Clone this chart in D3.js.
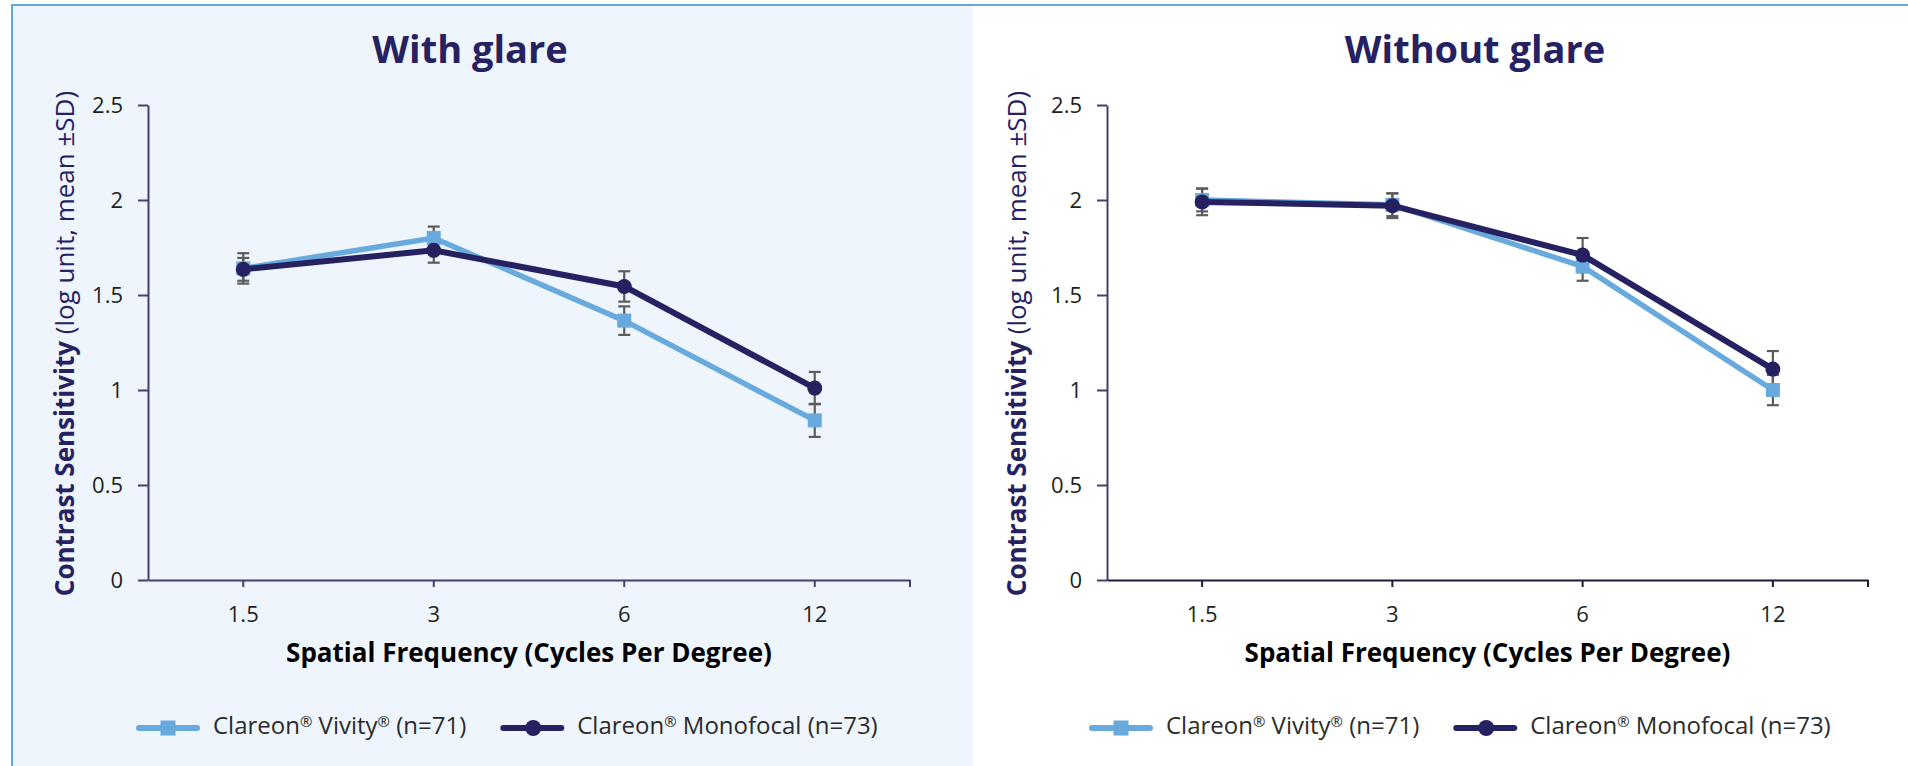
<!DOCTYPE html>
<html>
<head>
<meta charset="utf-8">
<script src="https://cdn.jsdelivr.net/npm/d3@7"></script>
<style>
  body { margin: 0; background: #fff; }
  svg { display: block; font-family: 'Open Sans', 'Noto Sans', sans-serif; }
</style>
</head>
<body>
<svg id="chart" width="1908" height="766"></svg>
<script>
// values (log units, mean and SD)
const frequencies = ['1.5', '3', '6', '12'];
const yTicks = [0, 0.5, 1, 1.5, 2, 2.5];

const glareVivity = [1.64, 1.80, 1.365, 0.84];
const glareVivitySd = [0.08, 0.06, 0.075, 0.087];
const glareMono = [1.635, 1.735, 1.545, 1.01];
const glareMonoSd = [0.06, 0.065, 0.08, 0.085];

const noGlareVivity = [2.00, 1.975, 1.65, 1.00];
const noGlareVivitySd = [0.06, 0.06, 0.075, 0.08];
const noGlareMono = [1.99, 1.97, 1.71, 1.11];
const noGlareMonoSd = [0.07, 0.065, 0.09, 0.095];

// legend labels, [text, superscript?]
const vivityLabel = [['Clareon', false], ['®', true], [' Vivity', false], ['®', true], [' (n=71)', false]];
const monoLabel = [['Clareon', false], ['®', true], [' Monofocal (n=73)', false]];

const COLORS = {
  vivity: '#68aade',
  mono: '#262262',
  error: '#5c5c5c',
  navy: '#262262',
  axis: '#463f6e',
  text: '#231f20'
};

const svg = d3.select('#chart');

// panel background and frame
svg.append('rect')
  .attr('x', 12).attr('y', 5)
  .attr('width', 961).attr('height', 761)
  .attr('fill', '#eef5fc');
svg.append('line')
  .attr('x1', 11).attr('x2', 1908).attr('y1', 5).attr('y2', 5)
  .attr('stroke', '#66a8de').attr('stroke-width', 2);
svg.append('line')
  .attr('x1', 12).attr('x2', 12).attr('y1', 4).attr('y2', 766)
  .attr('stroke', '#66a8de').attr('stroke-width', 2);

const y = d3.scaleLinear().domain([0, 2.5]).range([580, 105]);

const addLabel = (sel, parts) => {
  parts.forEach(([t, sup]) => {
    const ts = sel.append('tspan').text(t);
    if (sup) ts.attr('font-size', '0.62em').attr('baseline-shift', '45%');
  });
};

const styleAxis = (axis, color) => {
  // drop d3's default font so the page font is used
  axis.attr('font-family', null).attr('font-size', null);
  axis.select('.domain').attr('stroke', color).attr('stroke-width', 2);
  axis.selectAll('.tick line').attr('stroke', color).attr('stroke-width', 2);
  axis.selectAll('text').attr('font-size', 22).attr('fill', COLORS.text);
};

const drawPanel = ({ title, titleX, x0, x1, xAxisColor, yTitleX, legendX, vivity, vivitySd, mono, monoSd }) => {
  const g = svg.append('g');
  const x = d3.scaleBand().domain(frequencies).range([x0, x1]);
  const cx = d => x(d) + x.bandwidth() / 2;

  g.append('text')
    .attr('x', titleX).attr('y', 63)
    .attr('text-anchor', 'middle')
    .attr('font-size', 38).attr('font-weight', 700)
    .attr('fill', COLORS.navy)
    .text(title);

  // y axis
  const yAxis = g.append('g')
    .attr('transform', `translate(${x0},0)`)
    .call(d3.axisLeft(y).tickValues(yTicks).tickSize(10).tickSizeOuter(0).tickPadding(15).tickFormat(d3.format('')));
  styleAxis(yAxis, COLORS.axis);

  // x axis
  const xAxis = g.append('g')
    .attr('transform', `translate(0,${y(0)})`)
    .call(d3.axisBottom(x).tickSize(7).tickSizeOuter(0).tickPadding(19));
  styleAxis(xAxis, xAxisColor);
  // closing tick at the far end of the axis
  xAxis.append('line')
    .attr('x1', x1).attr('x2', x1).attr('y1', 0).attr('y2', 7)
    .attr('stroke', xAxisColor).attr('stroke-width', 2);

  // axis titles
  const yTitle = g.append('text')
    .attr('transform', `translate(${yTitleX},${(y(0) + y(2.5)) / 2 + 1}) rotate(-90)`)
    .attr('text-anchor', 'middle')
    .attr('font-size', 26).attr('fill', COLORS.navy);
  yTitle.append('tspan').attr('font-weight', 700).text('Contrast Sensitivity');
  yTitle.append('tspan').text(' (log unit, mean ±SD)');

  g.append('text')
    .attr('x', (x0 + x1) / 2).attr('y', 662)
    .attr('text-anchor', 'middle')
    .attr('font-size', 26).attr('font-weight', 700)
    .attr('fill', '#000')
    .text('Spatial Frequency (Cycles Per Degree)');

  // error bars behind everything
  const series = [
    { key: 'vivity', values: vivity, sd: vivitySd },
    { key: 'mono', values: mono, sd: monoSd }
  ];
  series.forEach(s => {
    const eb = g.append('g').attr('stroke', COLORS.error).attr('stroke-width', 2.2);
    frequencies.forEach((f, i) => {
      const hi = y(s.values[i] + s.sd[i]);
      const lo = y(s.values[i] - s.sd[i]);
      eb.append('line').attr('x1', cx(f)).attr('x2', cx(f)).attr('y1', hi).attr('y2', lo);
      eb.append('line').attr('x1', cx(f) - 6).attr('x2', cx(f) + 6).attr('y1', hi).attr('y2', hi);
      eb.append('line').attr('x1', cx(f) - 6).attr('x2', cx(f) + 6).attr('y1', lo).attr('y2', lo);
    });
  });

  const line = d3.line().x((d, i) => cx(frequencies[i])).y(d => y(d));

  g.append('path').datum(vivity)
    .attr('d', line).attr('fill', 'none')
    .attr('stroke', COLORS.vivity).attr('stroke-width', 5.5);
  g.selectAll('.sq').data(vivity).join('rect')
    .attr('x', (d, i) => cx(frequencies[i]) - 7)
    .attr('y', d => y(d) - 7)
    .attr('width', 14).attr('height', 14)
    .attr('fill', COLORS.vivity);

  g.append('path').datum(mono)
    .attr('d', line).attr('fill', 'none')
    .attr('stroke', COLORS.mono).attr('stroke-width', 6);
  g.selectAll('.dot').data(mono).join('circle')
    .attr('cx', (d, i) => cx(frequencies[i]))
    .attr('cy', d => y(d))
    .attr('r', 7.5)
    .attr('fill', COLORS.mono);

  // legend
  const ly = 728;
  const lg = g.append('g');
  lg.append('line')
    .attr('x1', legendX).attr('x2', legendX + 58).attr('y1', ly).attr('y2', ly)
    .attr('stroke', COLORS.vivity).attr('stroke-width', 6).attr('stroke-linecap', 'round');
  lg.append('rect')
    .attr('x', legendX + 29 - 7.5).attr('y', ly - 7.5)
    .attr('width', 15).attr('height', 15)
    .attr('fill', COLORS.vivity);
  const t1 = lg.append('text')
    .attr('x', legendX + 74).attr('y', ly + 6)
    .attr('font-size', 24).attr('fill', '#2b2b2b');
  addLabel(t1, vivityLabel);

  const mx = legendX + 74 + t1.node().getComputedTextLength() + 37;
  lg.append('line')
    .attr('x1', mx).attr('x2', mx + 58).attr('y1', ly).attr('y2', ly)
    .attr('stroke', COLORS.mono).attr('stroke-width', 6).attr('stroke-linecap', 'round');
  lg.append('circle')
    .attr('cx', mx + 30).attr('cy', ly).attr('r', 8)
    .attr('fill', COLORS.mono);
  const t2 = lg.append('text')
    .attr('x', mx + 74).attr('y', ly + 6)
    .attr('font-size', 24).attr('fill', '#2b2b2b');
  addLabel(t2, monoLabel);
};

drawPanel({
  title: 'With glare', titleX: 470,
  x0: 148, x1: 910, xAxisColor: COLORS.axis,
  yTitleX: 74, legendX: 139,
  vivity: glareVivity, vivitySd: glareVivitySd,
  mono: glareMono, monoSd: glareMonoSd
});

drawPanel({
  title: 'Without glare', titleX: 1475,
  x0: 1107, x1: 1868, xAxisColor: '#1f1b33',
  yTitleX: 1026, legendX: 1092,
  vivity: noGlareVivity, vivitySd: noGlareVivitySd,
  mono: noGlareMono, monoSd: noGlareMonoSd
});
</script>
</body>
</html>
